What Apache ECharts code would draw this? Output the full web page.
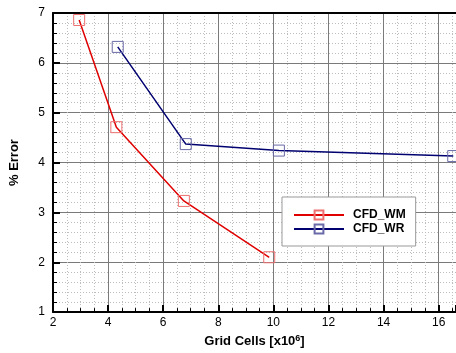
<!DOCTYPE html>
<html>
<head>
<meta charset="utf-8">
<script src="https://cdn.jsdelivr.net/npm/echarts@6/dist/echarts.min.js"></script>
<style>
  html, body { margin: 0; padding: 0; background: #fff; }
  #chart { width: 456px; height: 353px; }
</style>
</head>
<body>
<div id="chart"></div>
<script>
// Series data: [grid cells x10^6, % error]
const wmCells = [2.95, 4.3, 6.75, 9.85]
const wmError = [6.86, 4.71, 3.23, 2.1]
const wrCells = [4.35, 6.82, 10.2, 16.53]
const wrError = [6.32, 4.37, 4.24, 4.13]
const seriesNames = ['CFD_WM', 'CFD_WR']

const font = 'Liberation Sans, Arial, sans-serif'

const pairs = (xs, ys) => xs.map((x, i) => [x, ys[i]])

const chart = echarts.init(document.getElementById('chart'))

const gridLines = {
  splitLine: { show: true, lineStyle: { color: '#7a7a7a', width: 1 } },
  minorSplitLine: { show: true, lineStyle: { color: '#bdbdbd', width: 1, type: [1, 2] } },
}

chart.setOption({
  animation: false,
  backgroundColor: '#fff',
  textStyle: { fontFamily: font },
  grid: { left: 52, right: 0, top: 13, bottom: 30 },
  xAxis: [
    {
      type: 'value',
      min: 2,
      max: 16.63,
      interval: 2,
      name: '{n|Grid Cells [x10}{s|6}{n|]}',
      nameLocation: 'middle',
      nameGap: 17,
      nameTextStyle: {
        rich: {
          n: { fontFamily: font, fontSize: 13, fontWeight: 'bold', color: '#000' },
          s: { fontFamily: font, fontSize: 9, fontWeight: 'bold', color: '#000', verticalAlign: 'top', padding: [0, 0, 6, 0] },
        },
      },
      axisLine: { show: true, lineStyle: { color: '#000', width: 2 } },
      axisTick: { show: true, inside: true, length: 7, lineStyle: { color: '#000', width: 2 } },
      minorTick: { show: true, splitNumber: 4, length: 4, lineStyle: { color: '#000' } },
      axisLabel: { color: '#000', fontSize: 12, fontFamily: font, margin: 5, showMaxLabel: false },
      ...gridLines,
    },
    {
      type: 'value',
      position: 'top',
      min: 2,
      max: 16.63,
      interval: 2,
      axisLine: { show: true, lineStyle: { color: '#000', width: 2 } },
      axisTick: { show: false },
      axisLabel: { show: false },
      splitLine: { show: false },
    },
  ],
  yAxis: {
    type: 'value',
    min: 1,
    max: 7,
    interval: 1,
    name: '% Error',
    nameLocation: 'middle',
    nameGap: 32,
    nameTextStyle: { color: '#000', fontSize: 13, fontWeight: 'bold', fontFamily: font },
    axisLine: { show: true, lineStyle: { color: '#000', width: 2 } },
    axisTick: { show: true, inside: true, length: 7, lineStyle: { color: '#000', width: 2 } },
    minorTick: { show: true, splitNumber: 5, length: 4, lineStyle: { color: '#000' } },
    axisLabel: { color: '#000', fontSize: 12, fontFamily: font, margin: 8 },
    ...gridLines,
  },
  legend: {
    left: 282,
    top: 197,
    width: 128,
    orient: 'vertical',
    backgroundColor: '#fff',
    borderColor: '#999',
    borderWidth: 1,
    padding: [12, 10, 11, 11],
    itemGap: 2,
    itemWidth: 50,
    itemHeight: 11,
    textStyle: { fontFamily: font, fontSize: 12, fontWeight: 'bold', color: '#000', padding: [0, 0, 0, 4] },
    data: seriesNames,
  },
  series: [
    {
      name: seriesNames[0],
      type: 'line',
      data: pairs(wmCells, wmError),
      symbol: 'rect',
      symbolSize: 11,
      lineStyle: { color: '#e00000', width: 1.5 },
      itemStyle: { color: 'rgba(255,255,255,0)', borderColor: '#ee7070', borderWidth: 1 },
      z: 3,
    },
    {
      name: seriesNames[1],
      type: 'line',
      data: pairs(wrCells, wrError),
      symbol: 'rect',
      symbolSize: 11,
      lineStyle: { color: '#000070', width: 1.5 },
      itemStyle: { color: 'rgba(255,255,255,0)', borderColor: '#6a6aa8', borderWidth: 1 },
      z: 3,
    },
  ],
})
</script>
</body>
</html>
